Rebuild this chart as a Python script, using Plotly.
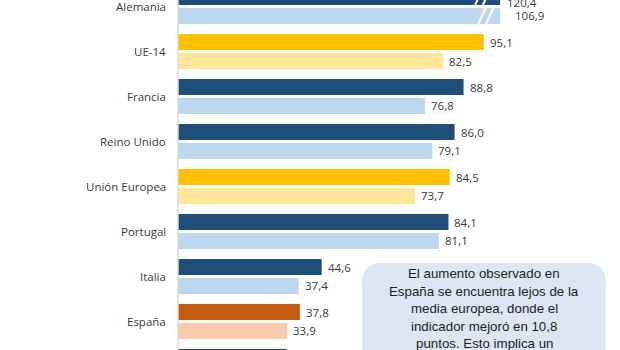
import plotly.graph_objects as go

# ---- data ----
categories = ["Alemania", "UE-14", "Francia", "Reino Unido", "Unión Europea",
              "Portugal", "Italia", "España", ""]
values_recent = [120.4, 95.1, 88.8, 86.0, 84.5, 84.1, 44.6, 37.8, 33.8]
values_prior = [106.9, 82.5, 76.8, 79.1, 73.7, 81.1, 37.4, 33.9, None]
labels_recent = ["120,4", "95,1", "88,8", "86,0", "84,5", "84,1", "44,6", "37,8", ""]
labels_prior = ["106,9", "82,5", "76,8", "79,1", "73,7", "81,1", "37,4", "33,9", ""]
axis_cap = 100.2  # bars longer than this are drawn broken

note_lines = ["El aumento observado en",
              "España se encuentra lejos de la",
              "media europea, donde el",
              "indicador mejoró en 10,8",
              "puntos. Esto implica un"]

# ---- styles ----
DARK = {"blue": "#1f4e79", "gold": "#ffc000", "orange": "#c55a11"}
LIGHT = {"blue": "#bdd7ee", "gold": "#ffe699", "orange": "#f8cbad"}
kinds = ["blue", "gold", "blue", "blue", "gold", "blue", "blue", "orange", "blue"]

W, H = 620, 350
X0PX, XSCALE = 178.5, 3.21     # pixel of zero, px per unit
Y0PX, YPITCH = 6.5, 45.0       # pixel of first group centre, px per group
xr = [(0 - X0PX) / XSCALE, (W - X0PX) / XSCALE]
yr = [(H - Y0PX) / YPITCH, (0 - Y0PX) / YPITCH]
off = 0.211
bw = 0.356

n = len(categories)
y_dark = [i - off for i in range(n)]
y_light = [i + off for i in range(n)]

def capped(v):
    return None if v is None else min(v, axis_cap)

fig = go.Figure()
fig.add_trace(go.Bar(orientation="h", y=y_dark, x=[capped(v) for v in values_recent],
                     width=bw, marker=dict(color=[DARK[k] for k in kinds], line=dict(width=0)),
                     hoverinfo="skip"))
fig.add_trace(go.Bar(orientation="h", y=y_light, x=[capped(v) for v in values_prior],
                     width=bw, marker=dict(color=[LIGHT[k] for k in kinds], line=dict(width=0)),
                     hoverinfo="skip"))

ann = []
shapes = []
lblfont = dict(family="Open Sans", size=11.5, color="#3a3a3a")
for i in range(n):
    if categories[i]:
        ann.append(dict(x=0, y=i, xref="x", yref="y", text=categories[i], showarrow=False,
                        xanchor="right", yanchor="middle", xshift=-11, font=lblfont))
    for vals, labs, yy in ((values_recent, labels_recent, y_dark[i]),
                           (values_prior, labels_prior, y_light[i])):
        v = vals[i]
        if v is None or not labs[i]:
            continue
        xs = 4
        if v > axis_cap:
            xs = 5 if vals is values_recent else 13
        ypos, ysh = yy, 0
        if yy < yr[1]:
            # anchor inside the visible range and shift up to the bar centre
            ypos, ysh = 0, (0 - yy) * YPITCH - 5
        ann.append(dict(x=capped(v), y=ypos, xref="x", yref="y", text=labs[i], showarrow=False,
                        xanchor="left", yanchor="middle", xshift=xs, yshift=ysh, font=lblfont))
    # break marks
    for vals, yy, base in ((values_recent, y_dark[i], 92.4), (values_prior, y_light[i], 93.4)):
        v = vals[i]
        if v is not None and v > axis_cap:
            for bx in (base, base + 2.4):
                shapes.append(dict(type="line", xref="x", yref="y",
                                   x0=bx, y0=yy + bw / 2, x1=bx + 2.3, y1=yy - bw / 2,
                                   line=dict(color="white", width=2)))

# axis line
shapes.append(dict(type="line", xref="x", yref="paper", x0=-0.15, x1=-0.15, y0=0, y1=1,
                   line=dict(color="#c8c8c8", width=1), layer="above"))

# note box (rounded rectangle) in paper coords
def px_x(p):
    return p / W
def px_y(p):
    return 1 - p / H
L, T, R, B, r = 362, 263, 606, 380, 20
path = (f"M {px_x(L)},{px_y(T + r)} Q {px_x(L)},{px_y(T)} {px_x(L + r)},{px_y(T)} "
        f"L {px_x(R - r)},{px_y(T)} Q {px_x(R)},{px_y(T)} {px_x(R)},{px_y(T + r)} "
        f"L {px_x(R)},{px_y(B)} L {px_x(L)},{px_y(B)} Z")
shapes.append(dict(type="path", xref="paper", yref="paper", path=path,
                   fillcolor="#dde6f2", line=dict(width=0), layer="below"))
for k, line in enumerate(note_lines):
    ann.append(dict(x=px_x(484), y=px_y(273.8 + 17.4 * k), xref="paper", yref="paper",
                    text=line, showarrow=False, xanchor="center", yanchor="middle",
                    font=dict(family="Liberation Sans", size=13.3, color="#1e1e1e")))

fig.update_layout(
    width=W, height=H, margin=dict(l=0, r=0, t=0, b=0),
    paper_bgcolor="white", plot_bgcolor="rgba(0,0,0,0)",
    showlegend=False, barmode="overlay",
    xaxis=dict(range=xr, visible=False, fixedrange=True),
    yaxis=dict(range=yr, visible=False, fixedrange=True),
    annotations=ann, shapes=shapes,
)
fig.write_html("out.html")
